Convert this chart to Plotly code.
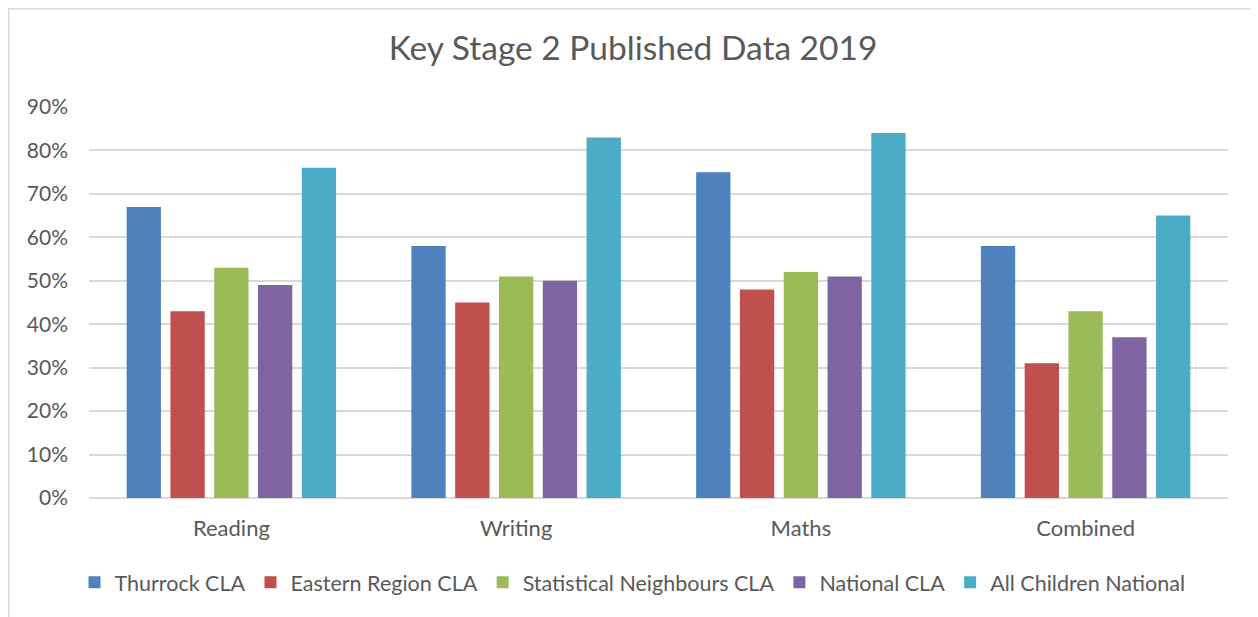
import plotly.graph_objects as go

categories = ["Reading", "Writing", "Maths", "Combined"]
series_names = ["Thurrock CLA", "Eastern Region CLA", "Statistical Neighbours CLA",
                "National CLA", "All Children National"]
thurrock = [0.67, 0.58, 0.75, 0.58]
eastern = [0.43, 0.45, 0.48, 0.31]
stat_neigh = [0.53, 0.51, 0.52, 0.43]
national = [0.49, 0.50, 0.51, 0.37]
all_children = [0.76, 0.83, 0.84, 0.65]
colors = ["#4F81BD", "#C0504D", "#9BBB59", "#8064A2", "#4BACC6"]

# page body has an 8px margin, so the figure is drawn at (8, 8)
W, H = 1250, 609
ML, MR, MT, MB = 81, 30, 99, 119.3
FONT = "Lato"
TXT = "#595959"

fig = go.Figure()
for name, vals, col in zip(series_names, [thurrock, eastern, stat_neigh, national, all_children], colors):
    fig.add_trace(go.Bar(name=name, x=categories, y=vals, marker=dict(color=col, line=dict(width=0))))

pw = W - ML - MR
ph = H - MT - MB
fig.add_shape(type="rect", xref="paper", yref="paper",
              x0=(0.75 - ML) / pw, x1=(W - 0.75 - ML) / pw,
              y0=(H - MB - 640) / ph, y1=(H - MB - 0.75) / ph,
              line=dict(color="#D9D9D9", width=1.5), fillcolor="rgba(0,0,0,0)", layer="below")

fig.update_layout(
    width=W, height=H,
    margin=dict(l=ML, r=MR, t=MT, b=MB, pad=0),
    paper_bgcolor="white", plot_bgcolor="white",
    barmode="group", bargap=0.231, bargroupgap=0.217,
    font=dict(family=FONT, color=TXT, size=21),
    title=dict(text="Key Stage 2 Published Data 2019", x=(625 - ML) / pw, xanchor="center",
               xref="paper", y=1 - 40 / H, yanchor="middle",
               font=dict(family=FONT, size=33.5, color=TXT)),
    xaxis=dict(showgrid=False, showline=False, ticks="", ticklabelstandoff=15,
               tickfont=dict(size=22, color=TXT)),
    yaxis=dict(range=[0, 0.9], dtick=0.1, tickformat=".0%", showgrid=True,
               gridcolor="#D9D9D9", gridwidth=1.5, zeroline=True,
               zerolinecolor="#D9D9D9", zerolinewidth=1.5, showline=False,
               ticks="", ticklabelstandoff=20, tickfont=dict(size=21, color=TXT)),
    legend=dict(orientation="h", x=(624.5 - ML) / pw, xanchor="center", y=(H - MB - 574) / ph,
                yanchor="middle", font=dict(size=21.5, color=TXT), traceorder="normal"),
)
fig.write_html("out.html")
